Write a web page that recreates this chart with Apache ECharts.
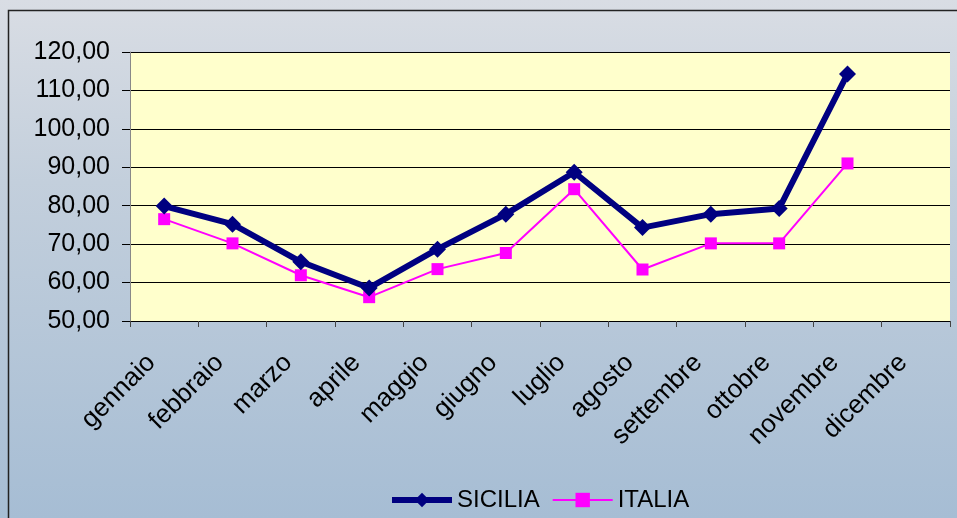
<!DOCTYPE html>
<html>
<head>
<meta charset="utf-8">
<script src="https://cdn.jsdelivr.net/npm/echarts@6/dist/echarts.min.js"></script>
<style>
  html, body { margin: 0; padding: 0; }
  #chart { width: 957px; height: 518px; }
</style>
</head>
<body>
<div id="chart"></div>
<script>
// mesi
const mesi = ["gennaio", "febbraio", "marzo", "aprile", "maggio", "giugno",
  "luglio", "agosto", "settembre", "ottobre", "novembre", "dicembre"];
// valori
const sicilia = [79.9, 75.2, 65.4, 58.6, 68.7, 77.8, 88.7, 74.3, 77.8, 79.3, 114.3, null];
const italia = [76.5, 70.2, 61.9, 56.2, 63.5, 67.7, 84.3, 63.4, 70.2, 70.2, 91.0, null];

const chart = echarts.init(document.getElementById("chart"));

const option = {
  animation: false,
  backgroundColor: {
    type: "linear", x: 0, y: 0, x2: 0, y2: 1,
    colorStops: [
      { offset: 0, color: "#d9dde4" },
      { offset: 0.35, color: "#c3cfdc" },
      { offset: 1, color: "#a6bdd4" }
    ]
  },
  graphic: [
    {
      type: "rect",
      shape: { x: 8.5, y: 10.5, width: 960, height: 520 },
      style: { fill: "none", stroke: "#222", lineWidth: 1.5 },
      silent: true
    }
  ],
  grid: {
    left: 130, right: 7, top: 52, bottom: 197,
    show: true,
    backgroundColor: "#ffffcc",
    borderWidth: 0
  },
  legend: {
    bottom: 1,
    left: 384,
    itemWidth: 60,
    itemHeight: 18,
    itemGap: 12,
    textStyle: { fontFamily: "Liberation Sans, Arial", fontSize: 24, color: "#000" },
    data: [
      { name: "SICILIA", lineStyle: { width: 6 } },
      { name: "ITALIA", lineStyle: { width: 2 } }
    ]
  },
  xAxis: {
    type: "category",
    data: mesi,
    boundaryGap: true,
    axisLine: { lineStyle: { color: "#000", width: 1 } },
    axisTick: { show: true, length: 6, lineStyle: { color: "#444" } },
    axisLabel: {
      rotate: 45,
      interval: 0,
      fontFamily: "Liberation Sans, Arial",
      fontSize: 26,
      color: "#000",
      margin: 25,
      padding: [0, 18, 0, 0]
    }
  },
  yAxis: {
    type: "value",
    min: 50, max: 120, interval: 10,
    axisLine: { show: true, lineStyle: { color: "#888", width: 1 } },
    axisTick: { show: true, length: 8, lineStyle: { color: "#000" } },
    splitLine: { lineStyle: { color: "#000", width: 1 } },
    axisLabel: {
      fontFamily: "Liberation Sans, Arial",
      fontSize: 25,
      color: "#000",
      margin: 20,
      formatter: v => v.toFixed(2).replace(".", ",")
    }
  },
  series: [
    {
      name: "SICILIA",
      type: "line",
      data: sicilia,
      color: "#000080",
      lineStyle: { width: 6, color: "#000080" },
      symbol: "diamond",
      symbolSize: 17,
      itemStyle: { color: "#000080" },
      z: 3
    },
    {
      name: "ITALIA",
      type: "line",
      data: italia,
      color: "#ff00ff",
      lineStyle: { width: 2, color: "#ff00ff" },
      symbol: "rect",
      symbolSize: 12,
      itemStyle: { color: "#ff00ff" },
      z: 2
    }
  ]
};

chart.setOption(option);
</script>
</body>
</html>
